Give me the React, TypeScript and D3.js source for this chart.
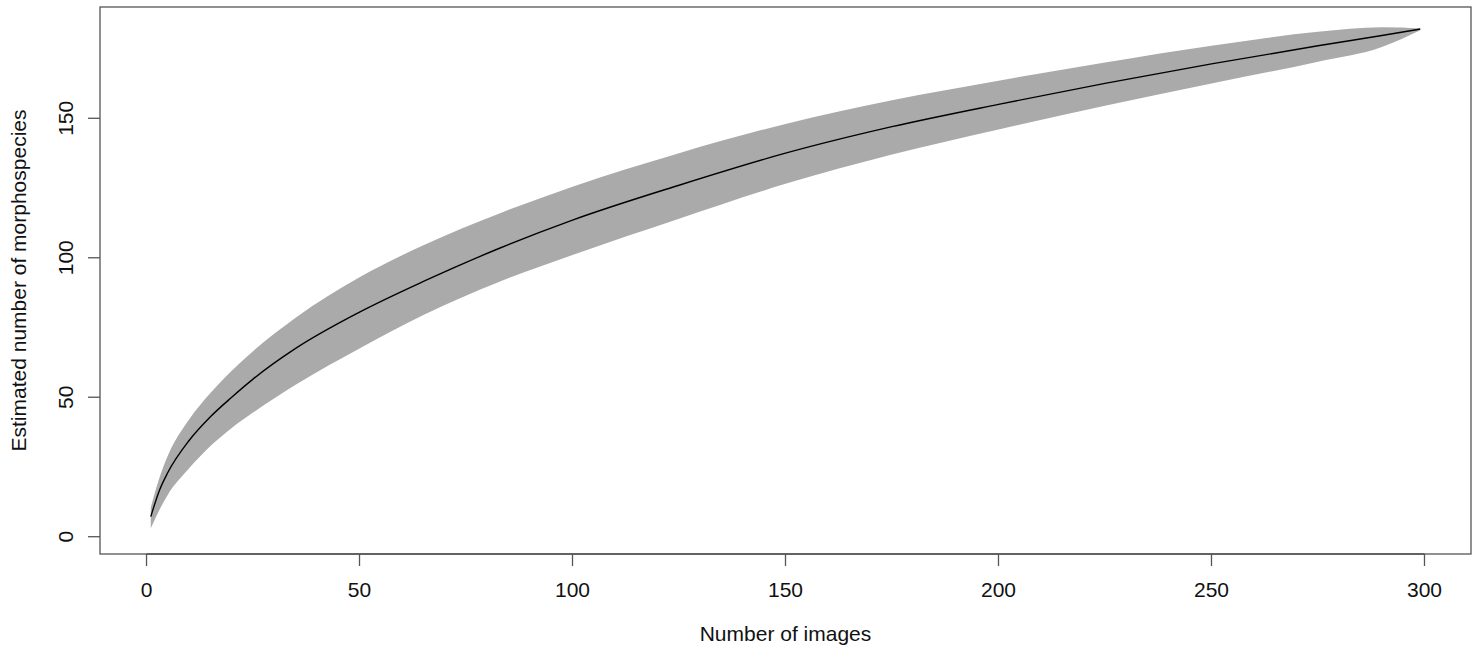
import { useEffect, useRef } from "react";
import * as d3 from "d3";

// sample sizes (number of images) at which the curve was read
const images = [1, 3, 5, 10, 15, 20, 25, 35, 50, 65, 83, 100, 125, 150, 175, 200, 225, 250, 275, 290, 299];
// estimated number of morphospecies and its band
const estimate = [7.2, 16.5, 23, 34.5, 43, 50, 56.5, 67.5, 80.5, 91.5, 103.5, 113.5, 126, 137.5, 147, 155, 162.5, 169.5, 176, 179.7, 182];
const upper = [10.5, 21, 29, 42, 51.5, 59.5, 66.5, 78.5, 93, 104.5, 116, 125.5, 137.5, 148, 156.5, 163.5, 170, 176, 181, 182.6, 182.2];
const lower = [3, 9.5, 15, 24.5, 32.5, 39, 44.5, 54.5, 67.5, 79.5, 91.5, 101, 114, 126.5, 137, 146, 154.5, 162.5, 170.3, 175.6, 181.6];

const xTicks = [0, 50, 100, 150, 200, 250, 300];
const yTicks = [0, 50, 100, 150];
const xLimits = [-10.92, 310.92];
const yLimits = [-6.2, 189.9];

export default function App() {
  const svgRef = useRef<SVGSVGElement | null>(null);

  useEffect(() => {
    if (!svgRef.current) return;
    const svg = d3.select(svgRef.current);
    svg.selectAll("*").remove();

    const box = { left: 100, right: 1471, top: 7, bottom: 554 };
    const font = "'Liberation Sans', Arial, sans-serif";
    const fontSize = 21;

    const x = d3.scaleLinear().domain(xLimits).range([box.left, box.right]);
    const y = d3.scaleLinear().domain(yLimits).range([box.bottom, box.top]);

    const idx = images.map((_, i) => i);

    const area = d3
      .area<number>()
      .x((i) => x(images[i]))
      .y0((i) => y(lower[i]))
      .y1((i) => y(upper[i]))
      .curve(d3.curveMonotoneX);

    svg.append("path").datum(idx).attr("d", area).attr("fill", "#aaaaaa");

    const line = d3
      .line<number>()
      .x((i) => x(images[i]))
      .y((i) => y(estimate[i]))
      .curve(d3.curveMonotoneX);

    svg
      .append("path")
      .datum(idx)
      .attr("d", line)
      .attr("fill", "none")
      .attr("stroke", "#000")
      .attr("stroke-width", 1.4);

    // plot frame
    svg
      .append("rect")
      .attr("x", box.left)
      .attr("y", box.top)
      .attr("width", box.right - box.left)
      .attr("height", box.bottom - box.top)
      .attr("fill", "none")
      .attr("stroke", "#555")
      .attr("stroke-width", 1.3);

    // x axis
    const xAxis = svg.append("g").attr("transform", `translate(0,${box.bottom})`);
    xAxis
      .append("line")
      .attr("x1", x(xTicks[0]))
      .attr("x2", x(xTicks[xTicks.length - 1]))
      .attr("stroke", "#555")
      .attr("stroke-width", 1.3);
    xTicks.forEach((t) => {
      xAxis
        .append("line")
        .attr("x1", x(t))
        .attr("x2", x(t))
        .attr("y1", 0)
        .attr("y2", 12)
        .attr("stroke", "#555")
        .attr("stroke-width", 1.3);
      xAxis
        .append("text")
        .attr("x", x(t))
        .attr("y", 43)
        .attr("text-anchor", "middle")
        .attr("font-family", font)
        .attr("font-size", fontSize)
        .attr("fill", "#111")
        .text(t);
    });

    // y axis
    const yAxis = svg.append("g").attr("transform", `translate(${box.left},0)`);
    yTicks.forEach((t) => {
      yAxis
        .append("line")
        .attr("x1", 0)
        .attr("x2", -12)
        .attr("y1", y(t))
        .attr("y2", y(t))
        .attr("stroke", "#555")
        .attr("stroke-width", 1.3);
      yAxis
        .append("text")
        .attr("transform", `translate(-27,${y(t)}) rotate(-90)`)
        .attr("text-anchor", "middle")
        .attr("font-family", font)
        .attr("font-size", fontSize)
        .attr("fill", "#111")
        .text(t);
    });

    svg
      .append("text")
      .attr("x", (box.left + box.right) / 2)
      .attr("y", 641)
      .attr("text-anchor", "middle")
      .attr("font-family", font)
      .attr("font-size", fontSize)
      .attr("fill", "#111")
      .text("Number of images");

    svg
      .append("text")
      .attr("transform", `translate(26,${(box.top + box.bottom) / 2}) rotate(-90)`)
      .attr("text-anchor", "middle")
      .attr("font-family", font)
      .attr("font-size", fontSize)
      .attr("fill", "#111")
      .text("Estimated number of morphospecies");
  }, []);

  return (
    <div style={{ position: "absolute", left: 0, top: 0, width: 1480, height: 650, background: "#fff" }}>
      <svg ref={svgRef} width={1480} height={650} style={{ display: "block" }}></svg>
    </div>
  );
}
